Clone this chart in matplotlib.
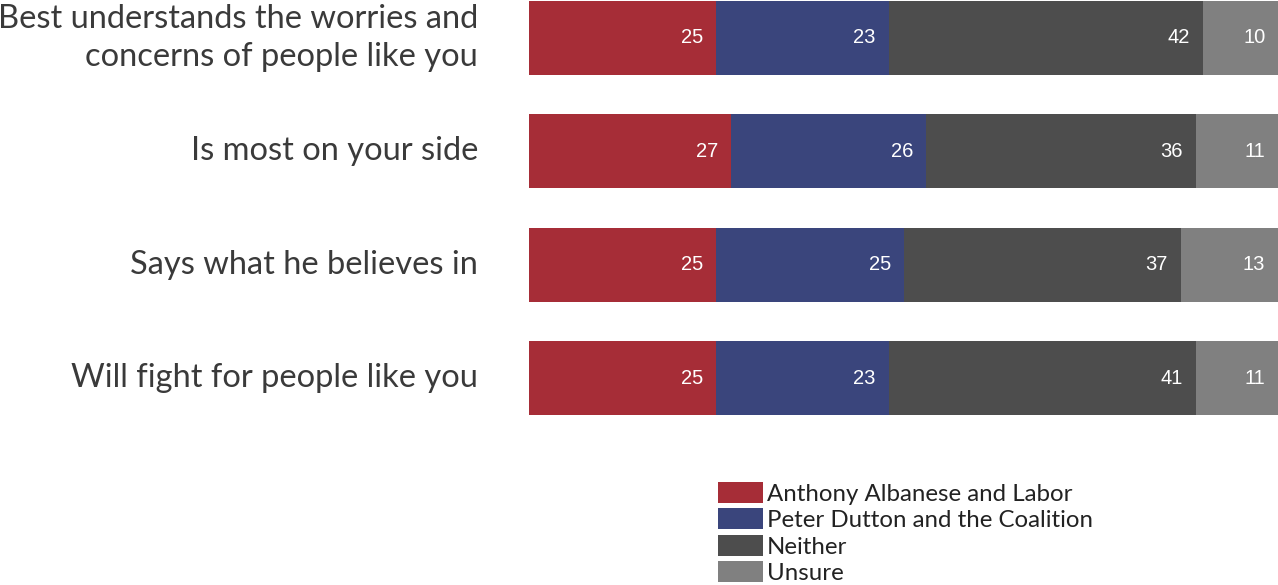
import matplotlib
matplotlib.use("Agg")
import matplotlib.pyplot as plt
import numpy as np

statements = [
    "Best understands the worries and\nconcerns of people like you",
    "Is most on your side",
    "Says what he believes in",
    "Will fight for people like you",
]
series_names = [
    "Anthony Albanese and Labor",
    "Peter Dutton and the Coalition",
    "Neither",
    "Unsure",
]
labor = [25, 27, 25, 25]
coalition = [23, 26, 25, 23]
neither = [42, 36, 37, 41]
unsure = [10, 11, 13, 11]

colours = ["#A62D37", "#3A457C", "#4D4D4D", "#808080"]

W, H = 1278, 585
fig = plt.figure(figsize=(W / 100, H / 100), dpi=100)

# axes placed in pixel terms: bars run from x=529 to the right edge
ax = fig.add_axes([529 / W, 1 - 430 / H, 1 - 529 / W, 430 / H])

ypos = np.arange(len(statements))
bar_h = 74 / 113.4
left = np.zeros(len(statements))
handles = []
for values, colour, name in zip([labor, coalition, neither, unsure], colours, series_names):
    values = np.array(values, dtype=float)
    bars = ax.barh(ypos, values, left=left, height=bar_h, color=colour, label=name)
    handles.append(bars)
    for y, l, v in zip(ypos, left, values):
        ax.text(l + v - 1.7, y, f"{v:g}", ha="right", va="center", color="white",
                fontsize=14.5, family="Liberation Sans")
    left += values

ax.set_xlim(0, 100)
ax.set_ylim(3.457, -0.335)
ax.axis("off")

for y, label in zip(ypos, statements):
    ax.text(-6.8, y, label, ha="right", va="center", fontsize=23.5,
            family="Lato", color="#3a3a3a", linespacing=1.3)

fig.legend(handles=handles, labels=series_names, loc="upper left",
           bbox_to_anchor=(718 / W, 1 - 482 / H), frameon=False,
           prop={"family": "Lato", "size": 17.3}, labelcolor="#222222",
           handlelength=1.87, handleheight=0.95, handletextpad=0.17,
           labelspacing=0.16, borderpad=0, borderaxespad=0)

fig.savefig("out.png", dpi=100)
